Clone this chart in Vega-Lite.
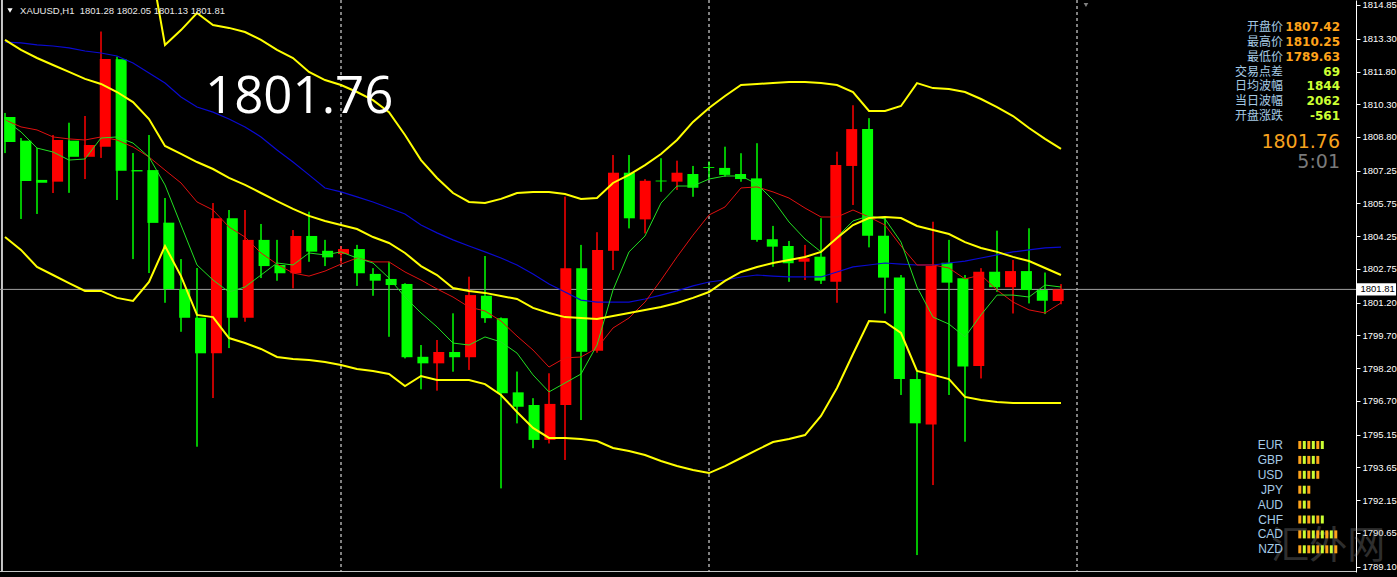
{
  "$schema": "https://vega.github.io/schema/vega-lite/v6.json",
  "width": 1356,
  "height": 572,
  "autosize": {"type": "none"},
  "padding": {"left": 0, "top": 0, "right": 41, "bottom": 5},
  "background": "#000000",
  "config": {
    "view": {"stroke": null},
    "axis": {"domainColor": "#ffffff", "tickColor": "#ffffff", "labelColor": "#ffffff", "labelFont": "Liberation Sans", "labelFontSize": 9.5, "tickSize": 4, "labelPadding": 2, "grid": false, "domainWidth": 1, "tickWidth": 1}
  },
  "datasets": {
    "bars": [
      {"i":0,"open":1809.71,"high":1809.90,"low":1808.06,"close":1808.57,"middle":1813.25,"lower":1804.21,"ma_slow":1813.15,"ma_mid":1809.58,"ma_fast":1809.58},
      {"i":1,"open":1808.63,"high":1808.75,"low":1805.04,"close":1806.78,"middle":1812.79,"lower":1803.62,"ma_slow":1813.11,"ma_mid":1809.26,"ma_fast":1809.03},
      {"i":2,"open":1806.83,"high":1808.29,"low":1805.27,"close":1806.70,"middle":1812.42,"lower":1802.84,"ma_slow":1813.02,"ma_mid":1809.12,"ma_fast":1808.29},
      {"i":3,"open":1806.75,"high":1808.89,"low":1806.23,"close":1808.66,"middle":1812.10,"lower":1802.47,"ma_slow":1812.97,"ma_mid":1808.80,"ma_fast":1808.11},
      {"i":4,"open":1808.63,"high":1809.45,"low":1806.24,"close":1807.89,"middle":1811.78,"lower":1802.10,"ma_slow":1812.88,"ma_mid":1808.71,"ma_fast":1807.74},
      {"i":5,"open":1807.89,"high":1809.76,"low":1806.87,"close":1808.43,"middle":1811.46,"lower":1801.74,"ma_slow":1812.74,"ma_mid":1808.66,"ma_fast":1807.79},
      {"i":6,"open":1808.35,"high":1813.63,"low":1807.84,"close":1812.37,"middle":1811.23,"lower":1801.74,"ma_slow":1812.65,"ma_mid":1808.80,"ma_fast":1808.75},
      {"i":7,"open":1812.36,"high":1812.48,"low":1805.91,"close":1807.25,"middle":1810.86,"lower":1801.42,"ma_slow":1812.51,"ma_mid":1808.66,"ma_fast":1808.80},
      {"i":8,"open":1807.28,"high":1808.06,"low":1803.20,"close":1807.22,"middle":1810.40,"lower":1801.28,"ma_slow":1812.19,"ma_mid":1808.34,"ma_fast":1808.52},
      {"i":9,"open":1807.28,"high":1808.89,"low":1802.56,"close":1804.86,"upper":1817.14,"middle":1809.62,"lower":1802.15,"ma_slow":1811.73,"ma_mid":1807.88,"ma_fast":1807.88},
      {"i":10,"open":1804.87,"high":1806.00,"low":1801.20,"close":1801.82,"upper":1813.02,"middle":1808.39,"lower":1803.80,"ma_slow":1811.27,"ma_mid":1807.28,"ma_fast":1806.60},
      {"i":11,"open":1801.82,"high":1803.20,"low":1799.87,"close":1800.51,"upper":1813.70,"middle":1808.02,"lower":1802.42,"ma_slow":1810.63,"ma_mid":1806.69,"ma_fast":1804.76},
      {"i":12,"open":1800.51,"high":1802.79,"low":1794.60,"close":1798.88,"upper":1814.48,"middle":1807.65,"lower":1800.64,"ma_slow":1810.17,"ma_mid":1805.82,"ma_fast":1802.93},
      {"i":13,"open":1798.88,"high":1805.77,"low":1796.83,"close":1805.07,"upper":1813.93,"middle":1807.33,"lower":1800.54,"ma_slow":1809.94,"ma_mid":1805.45,"ma_fast":1802.24},
      {"i":14,"open":1805.07,"high":1805.45,"low":1799.12,"close":1800.51,"upper":1813.80,"middle":1806.92,"lower":1799.58,"ma_slow":1809.62,"ma_mid":1804.67,"ma_fast":1801.69},
      {"i":15,"open":1800.51,"high":1805.45,"low":1800.33,"close":1804.08,"upper":1813.61,"middle":1806.60,"lower":1799.35,"ma_slow":1809.26,"ma_mid":1804.21,"ma_fast":1801.92},
      {"i":16,"open":1804.08,"high":1804.81,"low":1802.33,"close":1802.88,"upper":1813.25,"middle":1806.23,"lower":1799.08,"ma_slow":1808.80,"ma_mid":1803.48,"ma_fast":1802.47},
      {"i":17,"open":1802.93,"high":1804.08,"low":1802.21,"close":1802.55,"upper":1812.79,"middle":1805.86,"lower":1798.71,"ma_slow":1808.20,"ma_mid":1802.97,"ma_fast":1803.02},
      {"i":18,"open":1802.55,"high":1804.53,"low":1801.86,"close":1804.26,"upper":1812.42,"middle":1805.50,"lower":1798.62,"ma_slow":1807.65,"ma_mid":1802.56,"ma_fast":1802.93},
      {"i":19,"open":1804.26,"high":1805.37,"low":1803.08,"close":1803.54,"upper":1811.78,"middle":1805.18,"lower":1798.57,"ma_slow":1807.06,"ma_mid":1802.42,"ma_fast":1803.48},
      {"i":20,"open":1803.58,"high":1804.08,"low":1802.88,"close":1803.28,"upper":1811.41,"middle":1804.95,"lower":1798.48,"ma_slow":1806.46,"ma_mid":1802.65,"ma_fast":1803.39},
      {"i":21,"open":1803.43,"high":1803.80,"low":1803.01,"close":1803.66,"upper":1811.18,"middle":1804.76,"lower":1798.34,"ma_slow":1806.28,"ma_mid":1802.97,"ma_fast":1803.53},
      {"i":22,"open":1803.66,"high":1803.85,"low":1801.97,"close":1802.55,"upper":1810.86,"middle":1804.58,"lower":1798.16,"ma_slow":1806.05,"ma_mid":1803.25,"ma_fast":1803.25},
      {"i":23,"open":1802.52,"high":1802.78,"low":1801.52,"close":1802.21,"upper":1810.49,"middle":1804.21,"lower":1798.07,"ma_slow":1805.82,"ma_mid":1803.07,"ma_fast":1803.02},
      {"i":24,"open":1802.29,"high":1803.08,"low":1799.64,"close":1802.01,"upper":1809.94,"middle":1803.94,"lower":1797.93,"ma_slow":1805.54,"ma_mid":1803.07,"ma_fast":1802.33},
      {"i":25,"open":1802.06,"high":1802.09,"low":1798.65,"close":1798.70,"upper":1808.89,"middle":1803.48,"lower":1797.38,"ma_slow":1805.27,"ma_mid":1802.61,"ma_fast":1801.46},
      {"i":26,"open":1798.72,"high":1799.26,"low":1797.23,"close":1798.42,"upper":1807.74,"middle":1802.88,"lower":1797.84,"ma_slow":1804.76,"ma_mid":1802.24,"ma_fast":1800.73},
      {"i":27,"open":1798.42,"high":1799.49,"low":1797.17,"close":1798.94,"upper":1806.92,"middle":1802.47,"lower":1797.66,"ma_slow":1804.40,"ma_mid":1801.83,"ma_fast":1800.09},
      {"i":28,"open":1798.94,"high":1800.71,"low":1798.04,"close":1798.70,"upper":1806.23,"middle":1801.87,"lower":1797.66,"ma_slow":1804.08,"ma_mid":1801.46,"ma_fast":1799.35},
      {"i":29,"open":1798.70,"high":1802.39,"low":1798.12,"close":1801.55,"upper":1805.82,"middle":1801.74,"lower":1797.66,"ma_slow":1803.80,"ma_mid":1801.00,"ma_fast":1799.26},
      {"i":30,"open":1801.52,"high":1803.34,"low":1800.28,"close":1800.49,"upper":1805.77,"middle":1801.65,"lower":1797.47,"ma_slow":1803.53,"ma_mid":1800.82,"ma_fast":1799.63},
      {"i":31,"open":1800.49,"high":1800.52,"low":1792.69,"close":1797.05,"upper":1805.96,"middle":1801.51,"lower":1796.97,"ma_slow":1803.25,"ma_mid":1800.36,"ma_fast":1799.40},
      {"i":32,"open":1797.09,"high":1798.04,"low":1795.67,"close":1796.43,"upper":1806.23,"middle":1801.37,"lower":1796.19,"ma_slow":1802.93,"ma_mid":1799.67,"ma_fast":1798.89},
      {"i":33,"open":1796.51,"high":1796.82,"low":1794.53,"close":1794.91,"upper":1806.28,"middle":1800.96,"lower":1795.46,"ma_slow":1802.52,"ma_mid":1799.03,"ma_fast":1797.89},
      {"i":34,"open":1794.91,"high":1797.96,"low":1794.75,"close":1796.56,"upper":1806.28,"middle":1800.73,"lower":1795.00,"ma_slow":1802.06,"ma_mid":1798.25,"ma_fast":1797.11},
      {"i":35,"open":1796.51,"high":1806.06,"low":1793.99,"close":1802.78,"upper":1806.18,"middle":1800.54,"lower":1795.00,"ma_slow":1801.69,"ma_mid":1798.67,"ma_fast":1797.52},
      {"i":36,"open":1802.78,"high":1803.85,"low":1795.82,"close":1798.95,"upper":1805.96,"middle":1800.50,"lower":1794.95,"ma_slow":1801.32,"ma_mid":1798.71,"ma_fast":1797.93},
      {"i":37,"open":1799.00,"high":1804.43,"low":1798.91,"close":1803.62,"upper":1806.00,"middle":1800.45,"lower":1794.86,"ma_slow":1801.23,"ma_mid":1799.12,"ma_fast":1799.26},
      {"i":38,"open":1803.58,"high":1807.97,"low":1802.70,"close":1807.16,"upper":1806.69,"middle":1800.59,"lower":1794.54,"ma_slow":1801.23,"ma_mid":1800.04,"ma_fast":1801.78},
      {"i":39,"open":1807.16,"high":1807.97,"low":1804.61,"close":1805.07,"upper":1807.06,"middle":1800.73,"lower":1794.40,"ma_slow":1801.23,"ma_mid":1800.50,"ma_fast":1803.53},
      {"i":40,"open":1805.02,"high":1806.86,"low":1804.38,"close":1806.79,"upper":1807.51,"middle":1800.87,"lower":1794.22,"ma_slow":1801.37,"ma_mid":1801.23,"ma_fast":1804.26},
      {"i":41,"open":1806.80,"high":1807.82,"low":1806.29,"close":1806.76,"upper":1808.02,"middle":1801.00,"lower":1793.94,"ma_slow":1801.55,"ma_mid":1802.24,"ma_fast":1805.77},
      {"i":42,"open":1806.75,"high":1807.71,"low":1806.37,"close":1807.16,"upper":1808.66,"middle":1801.19,"lower":1793.71,"ma_slow":1801.74,"ma_mid":1803.30,"ma_fast":1806.55},
      {"i":43,"open":1807.10,"high":1807.47,"low":1806.06,"close":1806.47,"upper":1809.49,"middle":1801.42,"lower":1793.53,"ma_slow":1801.97,"ma_mid":1804.30,"ma_fast":1806.55},
      {"i":44,"open":1807.42,"high":1807.67,"low":1806.83,"close":1807.38,"upper":1810.13,"middle":1801.69,"lower":1793.39,"ma_slow":1802.15,"ma_mid":1805.22,"ma_fast":1806.87},
      {"i":45,"open":1807.38,"high":1808.35,"low":1806.98,"close":1807.06,"upper":1810.68,"middle":1802.20,"lower":1793.71,"ma_slow":1802.24,"ma_mid":1805.59,"ma_fast":1807.01},
      {"i":46,"open":1807.10,"high":1808.05,"low":1806.75,"close":1806.87,"upper":1811.18,"middle":1802.61,"lower":1794.08,"ma_slow":1802.38,"ma_mid":1806.46,"ma_fast":1807.01},
      {"i":47,"open":1806.90,"high":1808.51,"low":1804.00,"close":1804.08,"upper":1811.23,"middle":1802.84,"lower":1794.45,"ma_slow":1802.47,"ma_mid":1806.51,"ma_fast":1806.64},
      {"i":48,"open":1804.11,"high":1804.72,"low":1802.85,"close":1803.77,"upper":1811.27,"middle":1803.02,"lower":1794.81,"ma_slow":1802.42,"ma_mid":1806.28,"ma_fast":1805.91},
      {"i":49,"open":1803.80,"high":1804.03,"low":1802.16,"close":1803.01,"upper":1811.32,"middle":1803.16,"lower":1794.95,"ma_slow":1802.38,"ma_mid":1806.00,"ma_fast":1804.90},
      {"i":50,"open":1803.08,"high":1803.85,"low":1802.24,"close":1803.24,"upper":1811.32,"middle":1803.30,"lower":1795.13,"ma_slow":1802.38,"ma_mid":1805.54,"ma_fast":1804.12},
      {"i":51,"open":1803.31,"high":1805.07,"low":1802.06,"close":1802.21,"upper":1811.27,"middle":1803.53,"lower":1796.01,"ma_slow":1802.38,"ma_mid":1805.13,"ma_fast":1803.53},
      {"i":52,"open":1802.16,"high":1808.12,"low":1801.20,"close":1807.51,"upper":1811.18,"middle":1804.17,"lower":1797.29,"ma_slow":1802.61,"ma_mid":1805.13,"ma_fast":1804.21},
      {"i":53,"open":1807.47,"high":1810.25,"low":1805.68,"close":1809.16,"upper":1810.86,"middle":1804.76,"lower":1798.85,"ma_slow":1802.84,"ma_mid":1805.45,"ma_fast":1804.95},
      {"i":54,"open":1809.16,"high":1809.66,"low":1803.74,"close":1804.27,"upper":1809.99,"middle":1805.08,"lower":1800.36,"ma_slow":1802.93,"ma_mid":1805.13,"ma_fast":1805.18},
      {"i":55,"open":1804.27,"high":1805.14,"low":1800.71,"close":1802.35,"upper":1809.99,"middle":1805.13,"lower":1800.32,"ma_slow":1803.02,"ma_mid":1804.76,"ma_fast":1805.04},
      {"i":56,"open":1802.35,"high":1802.47,"low":1796.97,"close":1797.70,"upper":1810.22,"middle":1805.08,"lower":1799.81,"ma_slow":1802.97,"ma_mid":1803.80,"ma_fast":1803.98},
      {"i":57,"open":1797.70,"high":1798.04,"low":1789.63,"close":1795.67,"upper":1811.27,"middle":1804.72,"lower":1798.07,"ma_slow":1802.93,"ma_mid":1802.93,"ma_fast":1801.92},
      {"i":58,"open":1795.62,"high":1804.91,"low":1792.84,"close":1802.88,"upper":1811.04,"middle":1804.53,"lower":1797.89,"ma_slow":1802.93,"ma_mid":1802.93,"ma_fast":1800.54},
      {"i":59,"open":1803.03,"high":1804.08,"low":1796.97,"close":1802.12,"upper":1811.00,"middle":1804.35,"lower":1797.70,"ma_slow":1803.02,"ma_mid":1802.79,"ma_fast":1800.22},
      {"i":60,"open":1802.32,"high":1802.47,"low":1794.83,"close":1798.27,"upper":1810.86,"middle":1803.98,"lower":1796.88,"ma_slow":1803.11,"ma_mid":1802.29,"ma_fast":1799.63},
      {"i":61,"open":1798.30,"high":1802.78,"low":1797.73,"close":1802.62,"upper":1810.54,"middle":1803.71,"lower":1796.74,"ma_slow":1803.25,"ma_mid":1802.47,"ma_fast":1800.64},
      {"i":62,"open":1802.62,"high":1804.50,"low":1801.70,"close":1801.91,"upper":1810.17,"middle":1803.53,"lower":1796.65,"ma_slow":1803.39,"ma_mid":1801.78,"ma_fast":1801.55},
      {"i":63,"open":1801.91,"high":1803.16,"low":1800.71,"close":1802.65,"upper":1809.76,"middle":1803.30,"lower":1796.60,"ma_slow":1803.53,"ma_mid":1801.23,"ma_fast":1801.55},
      {"i":64,"open":1802.65,"high":1804.61,"low":1801.17,"close":1801.78,"upper":1809.21,"middle":1803.11,"lower":1796.60,"ma_slow":1803.62,"ma_mid":1800.87,"ma_fast":1801.46},
      {"i":65,"open":1801.78,"high":1802.58,"low":1800.68,"close":1801.29,"upper":1808.71,"middle":1802.79,"lower":1796.60,"ma_slow":1803.71,"ma_mid":1800.73,"ma_fast":1802.01},
      {"i":66,"open":1801.28,"high":1802.05,"low":1801.13,"close":1801.81,"upper":1808.25,"middle":1802.47,"lower":1796.60,"ma_slow":1803.75,"ma_mid":1801.19,"ma_fast":1801.92}
    ],
    "separators": [{"i": 21}, {"i": 44}, {"i": 67}],
    "quote": [{"bid": 1801.76, "last": 1801.81, "countdown": "5:01"}],
    "info": [
      {"label": "开盘价", "value": "1807.42", "row": 0, "kind": "price"},
      {"label": "最高价", "value": "1810.25", "row": 1, "kind": "price"},
      {"label": "最低价", "value": "1789.63", "row": 2, "kind": "price"},
      {"label": "交易点差", "value": "69", "row": 3, "kind": "stat"},
      {"label": "日均波幅", "value": "1844", "row": 4, "kind": "stat"},
      {"label": "当日波幅", "value": "2062", "row": 5, "kind": "stat"},
      {"label": "开盘涨跌", "value": "-561", "row": 6, "kind": "stat"}
    ],
    "currencies": [
      {"cur": "EUR", "row": 0}, {"cur": "GBP", "row": 1}, {"cur": "USD", "row": 2}, {"cur": "JPY", "row": 3},
      {"cur": "AUD", "row": 4}, {"cur": "CHF", "row": 5}, {"cur": "CAD", "row": 6}, {"cur": "NZD", "row": 7}
    ],
    "strength": [
      {"cur":"EUR","row":0,"seg":0},{"cur":"EUR","row":0,"seg":1},{"cur":"EUR","row":0,"seg":2},{"cur":"EUR","row":0,"seg":3},{"cur":"EUR","row":0,"seg":4},{"cur":"EUR","row":0,"seg":5},
      {"cur":"GBP","row":1,"seg":0},{"cur":"GBP","row":1,"seg":1},{"cur":"GBP","row":1,"seg":2},{"cur":"GBP","row":1,"seg":3},{"cur":"GBP","row":1,"seg":4},
      {"cur":"USD","row":2,"seg":0},{"cur":"USD","row":2,"seg":1},{"cur":"USD","row":2,"seg":2},{"cur":"USD","row":2,"seg":3},{"cur":"USD","row":2,"seg":4},
      {"cur":"JPY","row":3,"seg":0},{"cur":"JPY","row":3,"seg":1},{"cur":"JPY","row":3,"seg":2},
      {"cur":"AUD","row":4,"seg":0},{"cur":"AUD","row":4,"seg":1},{"cur":"AUD","row":4,"seg":2},
      {"cur":"CHF","row":5,"seg":0},{"cur":"CHF","row":5,"seg":1},{"cur":"CHF","row":5,"seg":2},{"cur":"CHF","row":5,"seg":3},{"cur":"CHF","row":5,"seg":4},{"cur":"CHF","row":5,"seg":5},
      {"cur":"CAD","row":6,"seg":0},{"cur":"CAD","row":6,"seg":1},{"cur":"CAD","row":6,"seg":2},{"cur":"CAD","row":6,"seg":3},{"cur":"CAD","row":6,"seg":4},{"cur":"CAD","row":6,"seg":5},{"cur":"CAD","row":6,"seg":6},{"cur":"CAD","row":6,"seg":7},{"cur":"CAD","row":6,"seg":8},
      {"cur":"NZD","row":7,"seg":0},{"cur":"NZD","row":7,"seg":1},{"cur":"NZD","row":7,"seg":2},{"cur":"NZD","row":7,"seg":3},{"cur":"NZD","row":7,"seg":4},{"cur":"NZD","row":7,"seg":5},{"cur":"NZD","row":7,"seg":6},{"cur":"NZD","row":7,"seg":7},{"cur":"NZD","row":7,"seg":8}
    ]
  },
  "resolve": {"scale": {"x": "independent", "y": "independent"}},
  "layer": [
    {
      "data": {"name": "bars"},
      "mark": {"type": "rule", "strokeWidth": 1},
      "encoding": {
        "x": {"field": "i", "type": "quantitative", "scale": {"domain": [-0.3125, 84.4375], "nice": false, "zero": false}, "axis": null},
        "y": {"field": "low", "type": "quantitative", "scale": {"domain": [1788.853, 1815.079], "nice": false, "zero": false},
              "axis": {"orient": "right", "values": [1814.85, 1813.30, 1811.80, 1810.30, 1808.80, 1807.25, 1805.75, 1804.25, 1802.75, 1801.20, 1799.70, 1798.20, 1796.70, 1795.15, 1793.65, 1792.15, 1790.65, 1789.10], "format": ".2f", "labelOverlap": false, "labelFlush": false, "labelBound": false, "labelBaseline": "middle", "title": null}},
        "y2": {"field": "high"},
        "color": {"condition": {"test": "datum.close > datum.open", "value": "#ff0000"}, "value": "#00ff00"}
      }
    },
    {
      "data": {"name": "separators"},
      "mark": {"type": "rule", "color": "#ffffff", "strokeDash": [3, 3], "strokeWidth": 1},
      "encoding": {
        "x": {"field": "i", "type": "quantitative", "scale": {"domain": [-0.3125, 84.4375], "nice": false, "zero": false}, "axis": null}
      }
    },
    {
      "data": {"name": "quote"},
      "mark": {"type": "rule", "color": "#c8c8c8", "strokeWidth": 2},
      "encoding": {
        "x": {"datum": -0.19, "type": "quantitative", "scale": {"domain": [-0.3125, 84.4375], "nice": false, "zero": false}, "axis": null}
      }
    },
    {
      "data": {"name": "quote"},
      "mark": {"type": "rule", "color": "#c8c8c8", "strokeWidth": 1},
      "encoding": {
        "y": {"datum": 1788.876, "type": "quantitative", "scale": {"domain": [1788.853, 1815.079], "nice": false, "zero": false}, "axis": null}
      }
    },
    {
      "data": {"name": "quote"},
      "mark": {"type": "rule", "color": "#a0a0a0", "strokeWidth": 1},
      "encoding": {
        "y": {"field": "last", "type": "quantitative", "scale": {"domain": [1788.853, 1815.079], "nice": false, "zero": false}, "axis": null}
      }
    },
    {
      "data": {"name": "bars"},
      "mark": {"type": "rule", "strokeWidth": 1},
      "encoding": {
        "x": {"field": "i", "type": "quantitative", "scale": {"domain": [-0.3125, 84.4375], "nice": false, "zero": false}, "axis": null},
        "y": {"field": "low", "type": "quantitative", "scale": {"domain": [1788.853, 1815.079], "nice": false, "zero": false}, "axis": null},
        "y2": {"field": "high"},
        "color": {"condition": {"test": "datum.close > datum.open", "value": "#ff0000"}, "value": "#00ff00"}
      }
    },
    {
      "data": {"name": "bars"},
      "mark": {"type": "bar", "size": 11},
      "encoding": {
        "x": {"field": "i", "type": "quantitative", "scale": {"domain": [-0.3125, 84.4375], "nice": false, "zero": false}, "axis": null},
        "y": {"field": "open", "type": "quantitative", "scale": {"domain": [1788.853, 1815.079], "nice": false, "zero": false}, "axis": null},
        "y2": {"field": "close"},
        "color": {"condition": {"test": "datum.close > datum.open", "value": "#ff0000"}, "value": "#00ff00"}
      }
    },
    {
      "data": {"name": "bars"},
      "mark": {"type": "line", "color": "#0a0ad2", "strokeWidth": 1.2, "clip": true},
      "encoding": {
        "x": {"field": "i", "type": "quantitative", "scale": {"domain": [-0.3125, 84.4375], "nice": false, "zero": false}, "axis": null},
        "y": {"field": "ma_slow", "type": "quantitative", "scale": {"domain": [1788.853, 1815.079], "nice": false, "zero": false}, "axis": null}
      }
    },
    {
      "data": {"name": "bars"},
      "mark": {"type": "line", "color": "#e01010", "strokeWidth": 1, "clip": true},
      "encoding": {
        "x": {"field": "i", "type": "quantitative", "scale": {"domain": [-0.3125, 84.4375], "nice": false, "zero": false}, "axis": null},
        "y": {"field": "ma_mid", "type": "quantitative", "scale": {"domain": [1788.853, 1815.079], "nice": false, "zero": false}, "axis": null}
      }
    },
    {
      "data": {"name": "bars"},
      "mark": {"type": "line", "color": "#22e022", "strokeWidth": 1, "clip": true},
      "encoding": {
        "x": {"field": "i", "type": "quantitative", "scale": {"domain": [-0.3125, 84.4375], "nice": false, "zero": false}, "axis": null},
        "y": {"field": "ma_fast", "type": "quantitative", "scale": {"domain": [1788.853, 1815.079], "nice": false, "zero": false}, "axis": null}
      }
    },
    {
      "data": {"name": "bars"},
      "mark": {"type": "line", "color": "#ffff00", "strokeWidth": 2, "clip": true},
      "encoding": {
        "x": {"field": "i", "type": "quantitative", "scale": {"domain": [-0.3125, 84.4375], "nice": false, "zero": false}, "axis": null},
        "y": {"field": "upper", "type": "quantitative", "scale": {"domain": [1788.853, 1815.079], "nice": false, "zero": false}, "axis": null}
      }
    },
    {
      "data": {"name": "bars"},
      "mark": {"type": "line", "color": "#ffff00", "strokeWidth": 2, "clip": true},
      "encoding": {
        "x": {"field": "i", "type": "quantitative", "scale": {"domain": [-0.3125, 84.4375], "nice": false, "zero": false}, "axis": null},
        "y": {"field": "middle", "type": "quantitative", "scale": {"domain": [1788.853, 1815.079], "nice": false, "zero": false}, "axis": null}
      }
    },
    {
      "data": {"name": "bars"},
      "mark": {"type": "line", "color": "#ffff00", "strokeWidth": 2, "clip": true},
      "encoding": {
        "x": {"field": "i", "type": "quantitative", "scale": {"domain": [-0.3125, 84.4375], "nice": false, "zero": false}, "axis": null},
        "y": {"field": "lower", "type": "quantitative", "scale": {"domain": [1788.853, 1815.079], "nice": false, "zero": false}, "axis": null}
      }
    },
    {
      "data": {"name": "quote"},
      "mark": {"type": "rect", "fill": "#ffffff"},
      "encoding": {
        "x": {"datum": 84.5, "type": "quantitative", "scale": {"domain": [-0.3125, 84.4375], "nice": false, "zero": false}, "axis": null},
        "x2": {"datum": 86.94},
        "y": {"datum": 1802.09, "type": "quantitative", "scale": {"domain": [1788.853, 1815.079], "nice": false, "zero": false}, "axis": null},
        "y2": {"datum": 1801.53}
      }
    },
    {
      "data": {"name": "quote"},
      "mark": {"type": "text", "align": "left", "baseline": "middle", "font": "Liberation Sans", "fontSize": 9.5, "fill": "#000000"},
      "encoding": {
        "x": {"datum": 84.72, "type": "quantitative", "scale": {"domain": [-0.3125, 84.4375], "nice": false, "zero": false}, "axis": null},
        "y": {"field": "last", "type": "quantitative", "scale": {"domain": [1788.853, 1815.079], "nice": false, "zero": false}, "axis": null},
        "text": {"field": "last", "type": "quantitative", "format": ".2f"}
      }
    },
    {
      "data": {"name": "quote"},
      "mark": {"type": "point", "shape": "triangle-down", "filled": true, "size": 28, "color": "#ffffff", "opacity": 1},
      "encoding": {
        "x": {"datum": 0.3125, "type": "quantitative", "scale": {"domain": [-0.3125, 84.4375], "nice": false, "zero": false}, "axis": null},
        "y": {"datum": 1814.60, "type": "quantitative", "scale": {"domain": [1788.853, 1815.079], "nice": false, "zero": false}, "axis": null}
      }
    },
    {
      "data": {"name": "quote"},
      "mark": {"type": "point", "shape": "triangle-down", "filled": true, "size": 22, "color": "#808080", "opacity": 1},
      "encoding": {
        "x": {"datum": 67.56, "type": "quantitative", "scale": {"domain": [-0.3125, 84.4375], "nice": false, "zero": false}, "axis": null},
        "y": {"datum": 1814.85, "type": "quantitative", "scale": {"domain": [1788.853, 1815.079], "nice": false, "zero": false}, "axis": null}
      }
    },
    {
      "data": {"name": "quote"},
      "mark": {"type": "text", "align": "left", "baseline": "middle", "font": "Liberation Sans", "fontSize": 9.5, "fill": "#e8e8e8", "text": "XAUUSD,H1\u00a0 1801.28 1802.05 1801.13 1801.81"},
      "encoding": {
        "x": {"datum": 0.94, "type": "quantitative", "scale": {"domain": [-0.3125, 84.4375], "nice": false, "zero": false}, "axis": null},
        "y": {"datum": 1814.575, "type": "quantitative", "scale": {"domain": [1788.853, 1815.079], "nice": false, "zero": false}, "axis": null}
      }
    },
    {
      "data": {"name": "quote"},
      "mark": {"type": "text", "align": "left", "baseline": "alphabetic", "font": "Open Sans", "fontSize": 51, "fill": "#ffffff"},
      "encoding": {
        "x": {"datum": 12.5, "type": "quantitative", "scale": {"domain": [-0.3125, 84.4375], "nice": false, "zero": false}, "axis": null},
        "y": {"datum": 1809.898, "type": "quantitative", "scale": {"domain": [1788.853, 1815.079], "nice": false, "zero": false}, "axis": null},
        "text": {"field": "bid", "type": "quantitative", "format": ".2f"}
      }
    },
    {
      "data": {"name": "info"},
      "mark": {"type": "text", "align": "right", "baseline": "middle", "font": "Noto Sans CJK SC", "fontSize": 12, "fill": "#a6cbe6"},
      "encoding": {
        "x": {"datum": 79.875, "type": "quantitative", "scale": {"domain": [-0.3125, 84.4375], "nice": false, "zero": false}, "axis": null},
        "y": {"field": "row", "type": "quantitative", "scale": {"domain": [-1.818, 36.70], "reverse": true, "nice": false, "zero": false}, "axis": null},
        "text": {"field": "label"}
      }
    },
    {
      "data": {"name": "info"},
      "mark": {"type": "text", "align": "right", "baseline": "middle", "font": "DejaVu Sans", "fontSize": 12, "fontWeight": "bold"},
      "encoding": {
        "x": {"datum": 83.4375, "type": "quantitative", "scale": {"domain": [-0.3125, 84.4375], "nice": false, "zero": false}, "axis": null},
        "y": {"field": "row", "type": "quantitative", "scale": {"domain": [-1.818, 36.70], "reverse": true, "nice": false, "zero": false}, "axis": null},
        "text": {"field": "value"},
        "color": {"field": "kind", "type": "nominal", "scale": {"domain": ["price", "stat"], "range": ["#ffa31a", "#ccff33"]}, "legend": null}
      }
    },
    {
      "data": {"name": "quote"},
      "mark": {"type": "text", "align": "right", "baseline": "middle", "font": "DejaVu Sans", "fontSize": 19, "fill": "#f7a21e"},
      "encoding": {
        "x": {"datum": 83.4375, "type": "quantitative", "scale": {"domain": [-0.3125, 84.4375], "nice": false, "zero": false}, "axis": null},
        "y": {"datum": 7.74, "type": "quantitative", "scale": {"domain": [-1.818, 36.70], "reverse": true, "nice": false, "zero": false}, "axis": null},
        "text": {"field": "bid", "type": "quantitative", "format": ".2f"}
      }
    },
    {
      "data": {"name": "quote"},
      "mark": {"type": "text", "align": "right", "baseline": "middle", "font": "DejaVu Sans", "fontSize": 19, "fill": "#7a7a7a"},
      "encoding": {
        "x": {"datum": 83.4375, "type": "quantitative", "scale": {"domain": [-0.3125, 84.4375], "nice": false, "zero": false}, "axis": null},
        "y": {"datum": 9.09, "type": "quantitative", "scale": {"domain": [-1.818, 36.70], "reverse": true, "nice": false, "zero": false}, "axis": null},
        "text": {"field": "countdown"}
      }
    },
    {
      "data": {"name": "quote"},
      "mark": {"type": "text", "align": "center", "baseline": "middle", "font": "Noto Sans CJK SC", "fontSize": 38, "fill": "#9a9a9a", "opacity": 0.3, "text": "汇外网"},
      "encoding": {
        "x": {"datum": 6.3, "type": "quantitative", "scale": {"domain": [-288.84, 12.49], "nice": false, "zero": false}, "axis": null},
        "y": {"datum": 6.85, "type": "quantitative", "scale": {"domain": [-29.866, 8.523], "reverse": true, "nice": false, "zero": false}, "axis": null}
      }
    },
    {
      "data": {"name": "strength"},
      "mark": {"type": "tick", "orient": "vertical", "size": 8, "thickness": 3, "opacity": 1},
      "encoding": {
        "x": {"field": "seg", "type": "quantitative", "scale": {"domain": [-288.84, 12.49], "nice": false, "zero": false}, "axis": null},
        "y": {"field": "row", "type": "quantitative", "scale": {"domain": [-29.866, 8.523], "reverse": true, "nice": false, "zero": false}, "axis": null},
        "color": {"field": "seg", "type": "ordinal", "scale": {"domain": [0, 1, 2, 3, 4, 5, 6, 7, 8], "range": ["#f02a10", "#f33510", "#f84a10", "#ff7018", "#ff9020", "#f0a020", "#c8b828", "#b0c030", "#a4c438"]}, "legend": null}
      }
    },
    {
      "data": {"name": "currencies"},
      "mark": {"type": "text", "align": "right", "baseline": "middle", "font": "Liberation Sans", "fontSize": 12, "fill": "#a6cbe6"},
      "encoding": {
        "x": {"datum": -3.73, "type": "quantitative", "scale": {"domain": [-288.84, 12.49], "nice": false, "zero": false}, "axis": null},
        "y": {"field": "row", "type": "quantitative", "scale": {"domain": [-29.866, 8.523], "reverse": true, "nice": false, "zero": false}, "axis": null},
        "text": {"field": "cur"}
      }
    }
  ]
}
